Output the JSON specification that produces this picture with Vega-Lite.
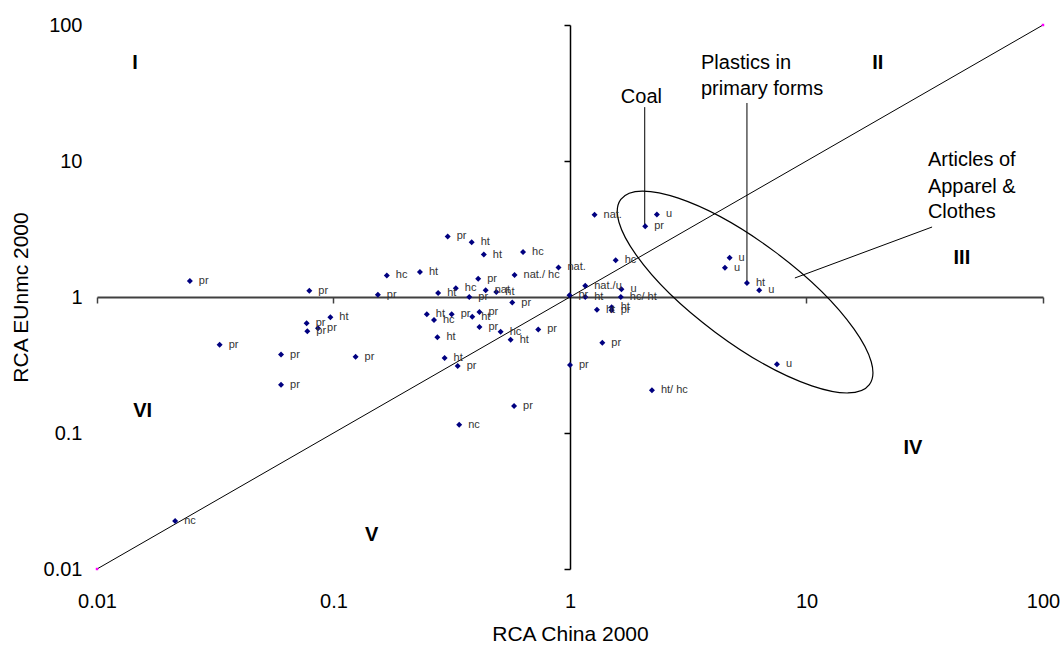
{
  "$schema": "https://vega.github.io/schema/vega-lite/v6.json",
  "width": 946,
  "height": 544,
  "autosize": {"type": "none"},
  "padding": {"left": 97, "top": 25, "right": 20, "bottom": 77},
  "background": "white",
  "config": {"view": {"stroke": null}, "font": "Liberation Sans"},
  "datasets": {
    "pts": [
      {"x": 0.0247, "y": 1.31, "label": "pr"},
      {"x": 0.079, "y": 1.11, "label": "pr"},
      {"x": 0.154, "y": 1.04, "label": "pr"},
      {"x": 0.168, "y": 1.44, "label": "hc"},
      {"x": 0.097, "y": 0.71, "label": "ht"},
      {"x": 0.077, "y": 0.64, "label": "pr"},
      {"x": 0.0775, "y": 0.56, "label": "pr"},
      {"x": 0.086, "y": 0.59, "label": "pr"},
      {"x": 0.033, "y": 0.445, "label": "pr"},
      {"x": 0.06, "y": 0.377, "label": "pr"},
      {"x": 0.124, "y": 0.364, "label": "pr"},
      {"x": 0.06, "y": 0.226, "label": "pr"},
      {"x": 0.304, "y": 2.79, "label": "pr"},
      {"x": 0.384, "y": 2.53, "label": "ht"},
      {"x": 0.432, "y": 2.05, "label": "ht"},
      {"x": 0.633, "y": 2.14, "label": "hc"},
      {"x": 0.894, "y": 1.65, "label": "nat."},
      {"x": 0.232, "y": 1.53, "label": "ht"},
      {"x": 0.409, "y": 1.36, "label": "pr"},
      {"x": 0.583, "y": 1.45, "label": "nat./ hc"},
      {"x": 0.329, "y": 1.16, "label": "hc"},
      {"x": 0.44, "y": 1.12, "label": "nat"},
      {"x": 0.488, "y": 1.09, "label": "ht"},
      {"x": 0.277, "y": 1.07, "label": "ht"},
      {"x": 0.375, "y": 1.0, "label": "pr"},
      {"x": 0.57, "y": 0.91, "label": "pr"},
      {"x": 0.995, "y": 1.03, "label": "pr"},
      {"x": 0.248, "y": 0.746, "label": "ht"},
      {"x": 0.266, "y": 0.678, "label": "hc"},
      {"x": 0.316, "y": 0.746, "label": "pr"},
      {"x": 0.386, "y": 0.716, "label": "ht"},
      {"x": 0.414, "y": 0.776, "label": "pr"},
      {"x": 0.414, "y": 0.601, "label": "pr"},
      {"x": 0.509, "y": 0.556, "label": "hc"},
      {"x": 0.561, "y": 0.485, "label": "ht"},
      {"x": 0.734, "y": 0.578, "label": "pr"},
      {"x": 0.275, "y": 0.506, "label": "ht"},
      {"x": 0.295, "y": 0.356, "label": "ht"},
      {"x": 0.335, "y": 0.311, "label": "pr"},
      {"x": 1.0, "y": 0.316, "label": "pr"},
      {"x": 0.34, "y": 0.115, "label": "nc"},
      {"x": 0.58, "y": 0.158, "label": "pr"},
      {"x": 0.0214, "y": 0.0225, "label": "nc"},
      {"x": 1.27, "y": 4.03, "label": "nat."},
      {"x": 2.33, "y": 4.05, "label": "u"},
      {"x": 2.08, "y": 3.31, "label": "pr"},
      {"x": 1.56, "y": 1.86, "label": "hc"},
      {"x": 1.16, "y": 1.21, "label": "nat./u"},
      {"x": 1.65, "y": 1.14, "label": "u"},
      {"x": 1.16, "y": 1.0, "label": "ht"},
      {"x": 1.64, "y": 1.0, "label": "hc/ ht"},
      {"x": 1.3, "y": 0.807, "label": "ht"},
      {"x": 1.5, "y": 0.84, "label": "ht"},
      {"x": 1.5, "y": 0.8, "label": "pr"},
      {"x": 1.37, "y": 0.461, "label": "pr"},
      {"x": 2.22, "y": 0.206, "label": "ht/ hc"},
      {"x": 4.73, "y": 1.94, "label": "u"},
      {"x": 4.52, "y": 1.64, "label": "u"},
      {"x": 5.6, "y": 1.27, "label": "ht"},
      {"x": 6.31, "y": 1.12, "label": "u"},
      {"x": 7.5, "y": 0.32, "label": "u"}
    ],
    "diag": [{"x": 0.01, "y": 0.01}, {"x": 100, "y": 100}],
    "leaders": [
      {"x": 2.07, "y": 3.31, "x2": 2.07, "y2": 24.9},
      {"x": 5.6, "y": 1.27, "x2": 5.6, "y2": 26.7},
      {"x": 33.96, "y": 3.27, "x2": 8.93, "y2": 1.38}
    ],
    "notes": [
      {"x": 1.64, "y": 29.55, "t": "Coal"},
      {"x": 3.58, "y": 52.6, "t": "Plastics in"},
      {"x": 3.58, "y": 33.8, "t": "primary forms"},
      {"x": 32.6, "y": 10.17, "t": "Articles of"},
      {"x": 32.6, "y": 6.44, "t": "Apparel &"},
      {"x": 32.6, "y": 4.22, "t": "Clothes"}
    ],
    "quads": [
      {"x": 0.01449, "y": 52.8, "t": "I"},
      {"x": 20.0, "y": 52.8, "t": "II"},
      {"x": 45.4, "y": 1.93, "t": "III"},
      {"x": 28.2, "y": 0.0776, "t": "IV"},
      {"x": 0.145, "y": 0.01778, "t": "V"},
      {"x": 0.0156, "y": 0.146, "t": "VI"}
    ],
    "ell": [{"x": 5.5, "y": 1.088}]
  },
  "resolve": {"axis": {"x": "independent", "y": "independent"}},
  "layer": [
    {
      "data": {"name": "ell"},
      "mark": {"type": "point", "shape": "M1,0C1,0.178,0.552,0.323,0,0.323C-0.552,0.323,-1,0.178,-1,0C-1,-0.178,-0.552,-0.323,0,-0.323C0.552,-0.323,1,-0.178,1,0Z", "size": 96100, "angle": 36.7, "filled": false, "stroke": "black", "strokeWidth": 1.2, "opacity": 1},
      "encoding": {
        "x": {"field": "x", "type": "quantitative", "scale": {"type": "log", "domain": [0.01, 100], "nice": false}, "axis": null},
        "y": {"field": "y", "type": "quantitative", "scale": {"type": "log", "domain": [0.01, 100], "nice": false}, "axis": null}
      }
    },
    {
      "data": {"name": "diag"},
      "mark": {"type": "line", "color": "black", "strokeWidth": 1},
      "encoding": {
        "x": {"field": "x", "type": "quantitative", "scale": {"type": "log", "domain": [0.01, 100], "nice": false},
          "axis": {"orient": "bottom", "offset": -272, "domain": true, "domainColor": "#404040", "domainWidth": 2.2, "ticks": true, "tickColor": "#404040", "tickWidth": 1.5, "tickSize": 6, "labels": false, "title": null, "grid": false, "values": [0.01, 0.1, 10, 100]}},
        "y": {"field": "y", "type": "quantitative", "scale": {"type": "log", "domain": [0.01, 100], "nice": false},
          "axis": {"orient": "left", "offset": -473, "domain": true, "domainColor": "black", "domainWidth": 1.5, "ticks": true, "tickColor": "black", "tickWidth": 1.5, "tickSize": 6, "labels": false, "title": null, "grid": false, "values": [0.01, 0.1, 10, 100]}}
      }
    },
    {
      "data": {"name": "diag"},
      "mark": {"type": "point", "shape": "square", "size": 6, "filled": true, "color": "#ff00ff", "opacity": 1},
      "encoding": {
        "x": {"field": "x", "type": "quantitative", "scale": {"type": "log", "domain": [0.01, 100], "nice": false}, "axis": null},
        "y": {"field": "y", "type": "quantitative", "scale": {"type": "log", "domain": [0.01, 100], "nice": false}, "axis": null}
      }
    },
    {
      "data": {"name": "leaders"},
      "mark": {"type": "rule", "color": "black", "strokeWidth": 1},
      "encoding": {
        "x": {"field": "x", "type": "quantitative", "scale": {"type": "log", "domain": [0.01, 100], "nice": false}, "axis": null},
        "y": {"field": "y", "type": "quantitative", "scale": {"type": "log", "domain": [0.01, 100], "nice": false}, "axis": null},
        "x2": {"field": "x2"},
        "y2": {"field": "y2"}
      }
    },
    {
      "data": {"name": "pts"},
      "mark": {"type": "point", "shape": "diamond", "size": 36, "filled": true, "color": "#000080", "opacity": 1},
      "encoding": {
        "x": {"field": "x", "type": "quantitative", "scale": {"type": "log", "domain": [0.01, 100], "nice": false},
          "axis": {"orient": "bottom", "domain": false, "ticks": false, "grid": false, "values": [0.01, 0.1, 1, 10, 100], "labelExpr": "datum.value + ''", "labelFontSize": 20, "labelColor": "black", "labelPadding": 22, "labelFlush": false, "labelOverlap": false, "title": "RCA China 2000", "titleFontSize": 21, "titleFontWeight": "normal", "titleColor": "black", "titlePadding": 12}},
        "y": {"field": "y", "type": "quantitative", "scale": {"type": "log", "domain": [0.01, 100], "nice": false},
          "axis": {"orient": "left", "domain": false, "ticks": false, "grid": false, "values": [0.01, 0.1, 1, 10, 100], "labelExpr": "datum.value + ''", "labelFontSize": 20, "labelColor": "black", "labelPadding": 15, "labelFlush": false, "labelOverlap": false, "title": "RCA EUnmc 2000", "titleFontSize": 21, "titleFontWeight": "normal", "titleColor": "black", "titlePadding": 12}}
      }
    },
    {
      "data": {"name": "pts"},
      "mark": {"type": "text", "align": "left", "baseline": "middle", "dx": 9, "fontSize": 11, "color": "#333333"},
      "encoding": {
        "x": {"field": "x", "type": "quantitative", "scale": {"type": "log", "domain": [0.01, 100], "nice": false}, "axis": null},
        "y": {"field": "y", "type": "quantitative", "scale": {"type": "log", "domain": [0.01, 100], "nice": false}, "axis": null},
        "text": {"field": "label"}
      }
    },
    {
      "data": {"name": "notes"},
      "mark": {"type": "text", "align": "left", "baseline": "middle", "fontSize": 20, "color": "black"},
      "encoding": {
        "x": {"field": "x", "type": "quantitative", "scale": {"type": "log", "domain": [0.01, 100], "nice": false}, "axis": null},
        "y": {"field": "y", "type": "quantitative", "scale": {"type": "log", "domain": [0.01, 100], "nice": false}, "axis": null},
        "text": {"field": "t"}
      }
    },
    {
      "data": {"name": "quads"},
      "mark": {"type": "text", "align": "center", "baseline": "middle", "fontSize": 20, "fontWeight": "bold", "color": "black"},
      "encoding": {
        "x": {"field": "x", "type": "quantitative", "scale": {"type": "log", "domain": [0.01, 100], "nice": false}, "axis": null},
        "y": {"field": "y", "type": "quantitative", "scale": {"type": "log", "domain": [0.01, 100], "nice": false}, "axis": null},
        "text": {"field": "t"}
      }
    }
  ]
}
